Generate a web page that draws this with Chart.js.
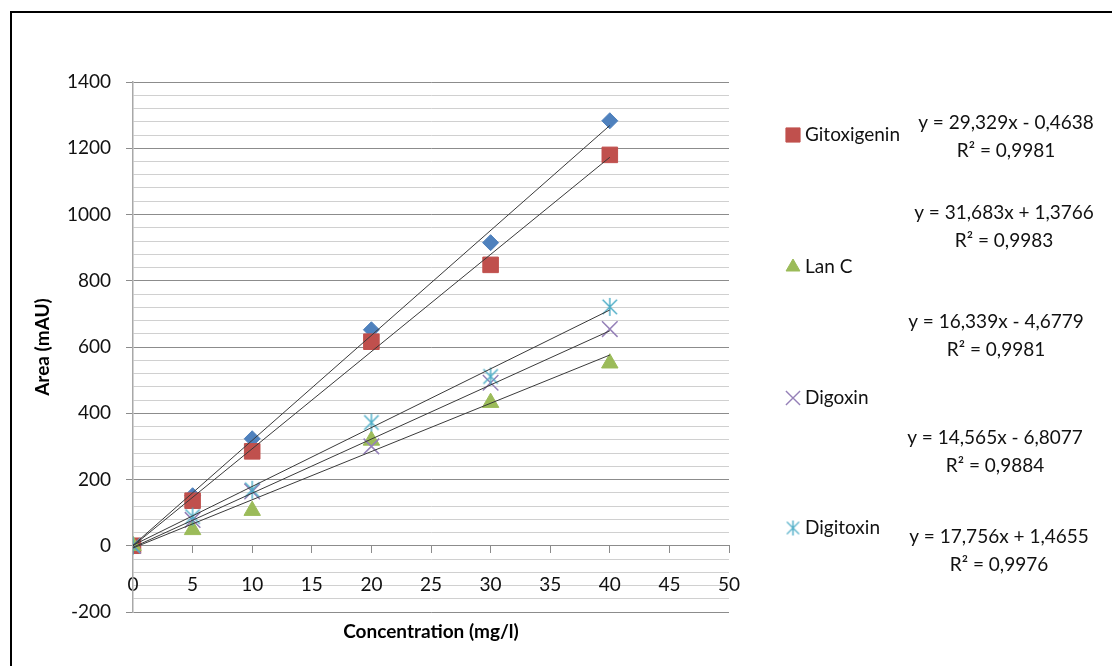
<!DOCTYPE html>
<html>
<head>
<meta charset="utf-8">
<title>Calibration curves</title>
<script src="https://cdn.jsdelivr.net/npm/chart.js@4.4.1/dist/chart.umd.min.js"></script>
<style>
  html, body { margin: 0; padding: 0; background: #fff; }
  canvas { display: block; }
</style>
</head>
<body>
<canvas id="calChart" width="1112" height="666"></canvas>
<script>
// Concentration (mg/l) vs. peak area (mAU) for each glycoside
const concentrations = [0, 5, 10, 20, 30, 40];
const seriesNames = ['Series1', 'Gitoxigenin', 'Lan C', 'Digoxin', 'Digitoxin'];
const areaSeries1 = [0, 151, 323, 652, 915, 1283];
const areaGitoxigenin = [0, 136, 285, 616, 848, 1180];
const areaLanC = [0, 48, 106, 318, 432, 551];
const areaDigoxin = [0, 78, 164, 300, 492, 654];
const areaDigitoxin = [0, 88, 169, 372, 511, 721];

// Least-squares fits printed beside the plot
const fitSlopes = [31.683, 29.329, 14.565, 16.339, 17.756];
const fitIntercepts = [1.3766, -0.4638, -6.8077, -4.6779, 1.4655];
const fitR2 = [0.9983, 0.9981, 0.9884, 0.9981, 0.9976];

// Axis ranges
const xRange = [0, 50];
const xStep = 5;
const yRange = [-200, 1400];
const yMajorStep = 200;
const yMinorStep = 40;

(function() {
  'use strict';

  const FONT = 'Lato';
  const TEXT_COLOR = '#111';
  const COLORS = ['#4F81BD', '#C0504D', '#9BBB59', '#9580B8', '#4BACC6'];
  const PAD_LEFT = 20;

  // Excel-style asterisk: an X with a vertical bar through it
  function asteriskMarker(size, color) {
    const c = document.createElement('canvas');
    c.width = size;
    c.height = size;
    const g = c.getContext('2d');
    const m = size / 2;
    const d = size * 0.36;
    g.strokeStyle = color;
    g.lineWidth = 1.4;
    g.beginPath();
    g.moveTo(m - d, m - d); g.lineTo(m + d, m + d);
    g.moveTo(m + d, m - d); g.lineTo(m - d, m + d);
    g.moveTo(m, 1); g.lineTo(m, size - 1);
    g.stroke();
    return c;
  }

  const markerStyles = ['rectRot', 'rect', 'triangle', 'crossRot', asteriskMarker(20, COLORS[4])];
  const legendStyles = ['rectRot', 'rect', 'triangle', 'crossRot', asteriskMarker(17, COLORS[4])];
  const markerRadius = [8, 11, 9.5, 11, 10];
  const legendRadius = [7, 10, 8, 10, 9];

  // label placement for the legend rows and fit equations
  const LEGEND_X = 793;
  const legendRows = [null, 135, 267, 398, 528];
  const equationPos = [
    { x: 1004, y: 213 },
    { x: 1006, y: 123 },
    { x: 995, y: 438 },
    { x: 996, y: 322 },
    { x: 999, y: 537 }
  ];

  const decimal = n => String(n).replace('.', ',');
  const equationText = i => 'y = ' + decimal(fitSlopes[i]) + 'x ' +
    (fitIntercepts[i] < 0 ? '- ' : '+ ') + decimal(Math.abs(fitIntercepts[i]));

  const areaSets = [areaSeries1, areaGitoxigenin, areaLanC, areaDigoxin, areaDigitoxin];
  const datasets = [];

  areaSets.forEach((values, i) => {
    datasets.push({
      type: 'scatter',
      label: seriesNames[i],
      data: concentrations.map((c, k) => ({ x: c, y: values[k] })),
      pointStyle: markerStyles[i],
      pointRadius: markerRadius[i],
      backgroundColor: COLORS[i],
      borderColor: COLORS[i],
      borderWidth: i === 3 ? 1.5 : 1,
      order: 10 - i
    });
  });

  // trendlines over the measured range
  const xFirst = Math.min(...concentrations);
  const xLast = Math.max(...concentrations);
  fitSlopes.forEach((m, i) => {
    const b = fitIntercepts[i];
    datasets.push({
      type: 'line',
      label: seriesNames[i] + ' fit',
      data: [{ x: xFirst, y: m * xFirst + b }, { x: xLast, y: m * xLast + b }],
      borderColor: '#3a3a3a',
      borderWidth: 1,
      pointRadius: 0,
      fill: false,
      order: 0
    });
  });

  const isMajor = v => Math.abs(v % yMajorStep) < 1e-6;

  const framePlugin = {
    id: 'frame',
    beforeDraw(chart) {
      const ctx = chart.ctx;
      ctx.save();
      ctx.fillStyle = '#fff';
      ctx.fillRect(0, 0, chart.width, chart.height);
      ctx.strokeStyle = '#000';
      ctx.lineWidth = 2;
      ctx.beginPath();
      ctx.moveTo(11, chart.height);
      ctx.lineTo(11, 12);
      ctx.lineTo(chart.width, 12);
      ctx.stroke();
      ctx.restore();
    }
  };

  const sideLabels = {
    id: 'sideLabels',
    afterDraw(chart) {
      const ctx = chart.ctx;
      ctx.save();
      ctx.font = '19px ' + FONT;
      ctx.textBaseline = 'middle';

      // legend entries
      seriesNames.forEach((name, i) => {
        const y = legendRows[i];
        if (y == null) return;
        ctx.fillStyle = COLORS[i];
        ctx.strokeStyle = COLORS[i];
        ctx.lineWidth = i === 3 ? 1.4 : 1;
        Chart.helpers.drawPoint(ctx, {
          pointStyle: legendStyles[i],
          radius: legendRadius[i],
          rotation: 0,
          borderWidth: 1
        }, LEGEND_X, y);
        ctx.fillStyle = TEXT_COLOR;
        ctx.textAlign = 'left';
        ctx.fillText(name, LEGEND_X + 12, y);
      });

      // fit equations
      ctx.textAlign = 'center';
      ctx.fillStyle = TEXT_COLOR;
      equationPos.forEach((p, i) => {
        ctx.fillText(equationText(i), p.x, p.y);
        ctx.fillText('R\u00B2 = ' + decimal(fitR2[i]), p.x, p.y + 28);
      });
      ctx.restore();
    }
  };

  Chart.defaults.font.family = FONT;

  new Chart(document.getElementById('calChart').getContext('2d'), {
    type: 'scatter',
    data: { datasets: datasets },
    options: {
      responsive: false,
      animation: false,
      events: [],
      layout: { padding: { left: PAD_LEFT, top: 82, right: 383, bottom: 54 } },
      plugins: {
        legend: { display: false },
        tooltip: { enabled: false }
      },
      scales: {
        x: {
          type: 'linear',
          position: { y: 0 },
          min: xRange[0],
          max: xRange[1],
          ticks: {
            stepSize: xStep,
            autoSkip: false,
            maxRotation: 0,
            padding: 21,
            color: TEXT_COLOR,
            font: { size: 19 }
          },
          grid: { drawOnChartArea: false, drawTicks: true, tickLength: 7, color: '#8c8c8c' },
          border: { display: true, color: '#8c8c8c', width: 1 },
          title: {
            display: true,
            text: 'Concentration (mg/l)',
            color: '#000',
            font: { size: 19, weight: 'bold' },
            padding: { top: 3, bottom: 0 }
          }
        },
        y: {
          type: 'linear',
          position: 'left',
          min: yRange[0],
          max: yRange[1],
          afterFit: scale => { scale.width = 133 - PAD_LEFT; },
          ticks: {
            stepSize: yMinorStep,
            maxTicksLimit: 100,
            autoSkip: false,
            padding: 15,
            color: TEXT_COLOR,
            font: { size: 19 },
            callback: v => (isMajor(v) ? String(v) : '')
          },
          grid: {
            color: c => (c.tick && isMajor(c.tick.value) ? '#8c8c8c' : '#d0d0d0'),
            tickColor: c => (c.tick && isMajor(c.tick.value) ? '#8c8c8c' : 'rgba(0,0,0,0)'),
            tickLength: 7
          },
          border: { display: true, color: '#a8a8a8', width: 1.5 },
          title: {
            display: true,
            text: 'Area (mAU)',
            color: '#000',
            font: { size: 19, weight: 'bold' },
            padding: { top: 11, bottom: 0 }
          }
        }
      }
    },
    plugins: [framePlugin, sideLabels]
  });
})();
</script>
</body>
</html>
